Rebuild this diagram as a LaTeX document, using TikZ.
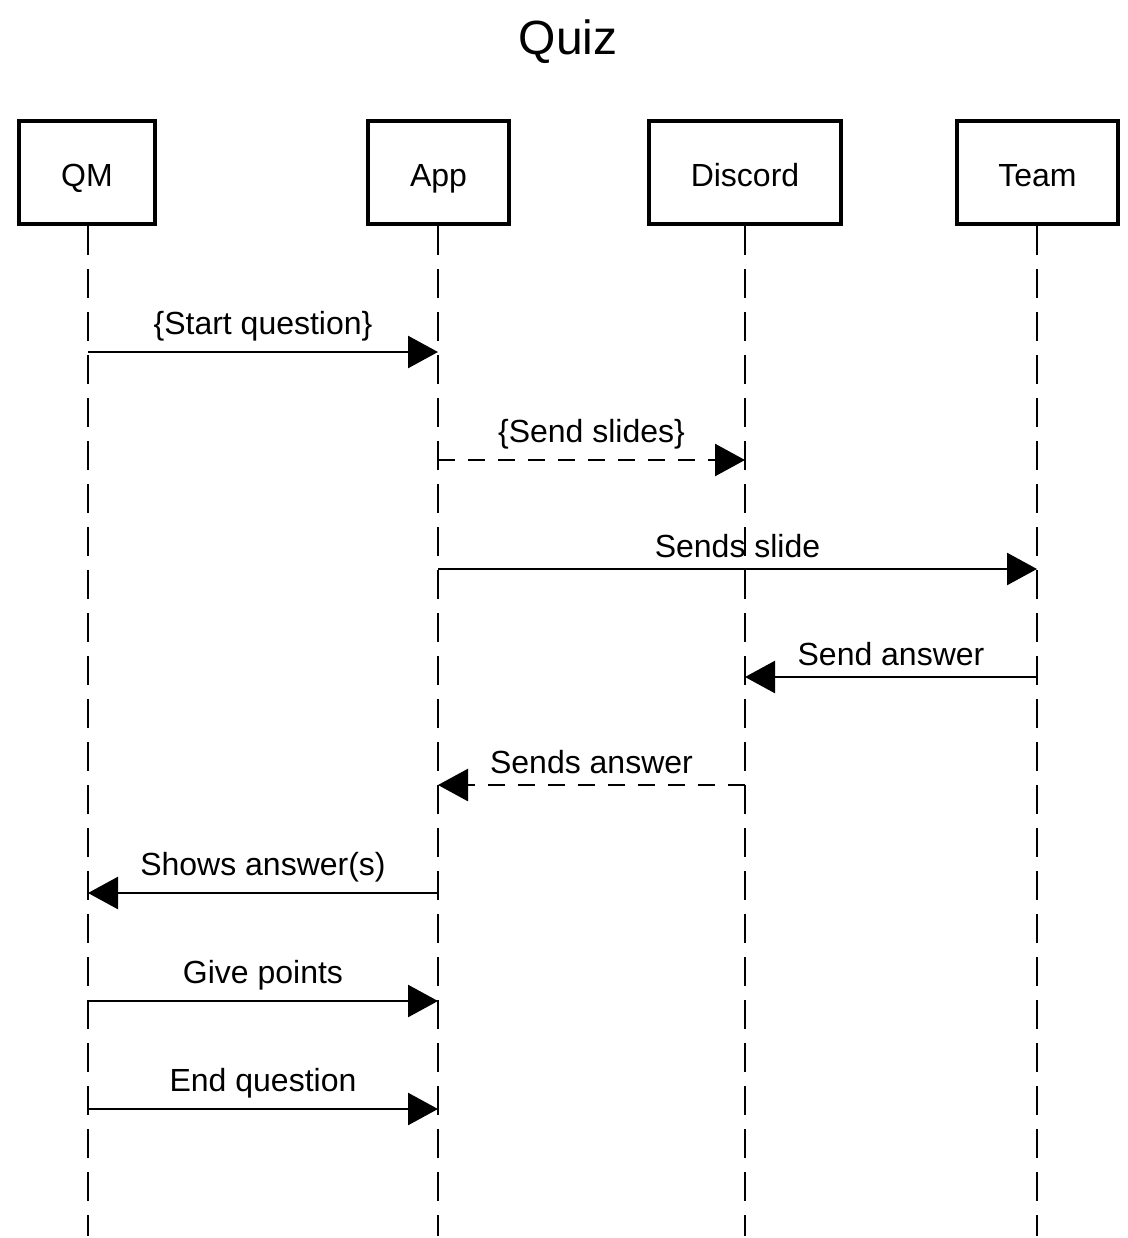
\documentclass[tikz,border=0pt]{standalone}
\usepackage{fontspec}
\setmainfont{Liberation Sans}
\usetikzlibrary{arrows.meta}

\begin{document}
\begin{tikzpicture}[x=0.5pt, y=-0.5pt,
    actor/.style={draw, line width=2.1pt, minimum height=51.5pt, text height=13.5pt, text depth=0pt, font=\fontsize{16}{19}\selectfont},
    lifeline/.style={line width=1.3pt, dash pattern=on 14.5pt off 7pt},
    msg/.style={line width=1.3pt, -{Triangle[length=15pt, width=16pt]}},
    reply/.style={msg, dash pattern=on 8.5pt off 6.5pt},
    lbl/.style={midway, above=5pt, inner sep=0pt, font=\fontsize{16}{19}\selectfont}]
    \useasboundingbox (0,0) rectangle (1128,1238);

    % Title
    \node (title) at (568,42) {\fontsize{24}{29}\selectfont Quiz};

    % Actors
    \node [actor, minimum width=68pt] (qm) at (87,172.5) {QM};
    \node [actor, minimum width=70.5pt] (app) at (438.5,172.5) {App};
    \node [actor, minimum width=96pt] (discord) at (745,172.5) {Discord};
    \node [actor, minimum width=80.5pt] (team) at (1037.5,172.5) {Team};

    % Ends of the lifelines
    \coordinate (qmEnd) at (88,1236);
    \coordinate (appEnd) at (438,1236);
    \coordinate (discordEnd) at (745,1236);
    \coordinate (teamEnd) at (1037,1236);

    % Lifelines
    \draw [lifeline] (qm.south -| qmEnd) -- (qmEnd);
    \draw [lifeline] (app.south -| appEnd) -- (appEnd);
    \draw [lifeline] (discord.south -| discordEnd) -- (discordEnd);
    \draw [lifeline] (team.south -| teamEnd) -- (teamEnd);

    % Message ends on the lifelines
    \coordinate (qm1) at (88,352);    \coordinate (app1) at (438,352);
    \coordinate (app2) at (438,460);  \coordinate (discord2) at (745,460);
    \coordinate (app3) at (438,569);  \coordinate (team3) at (1037,569);
    \coordinate (team4) at (1037,677); \coordinate (discord4) at (745,677);
    \coordinate (discord5) at (745,785); \coordinate (app5) at (438,785);
    \coordinate (app6) at (438,893); \coordinate (qm6) at (88,893);
    \coordinate (qm7) at (88,1001);   \coordinate (app7) at (438,1001);
    \coordinate (qm8) at (88,1109);   \coordinate (app8) at (438,1109);

    % Messages
    \draw [msg] (qm1) -- (app1) node [lbl] {\{Start question\}};
    \draw [reply] (app2) -- (discord2) node [lbl] {\{Send slides\}};
    \draw [msg] (app3) -- (team3) node [lbl] {Sends slide};
    \draw [msg] (team4) -- (discord4) node [lbl] {Send answer};
    \draw [reply] (discord5) -- (app5) node [lbl] {Sends answer};
    \draw [msg] (app6) -- (qm6) node [lbl] {Shows answer(s)};
    \draw [msg] (qm7) -- (app7) node [lbl] {Give points};
    \draw [msg] (qm8) -- (app8) node [lbl] {End question};

\end{tikzpicture}
\end{document}
